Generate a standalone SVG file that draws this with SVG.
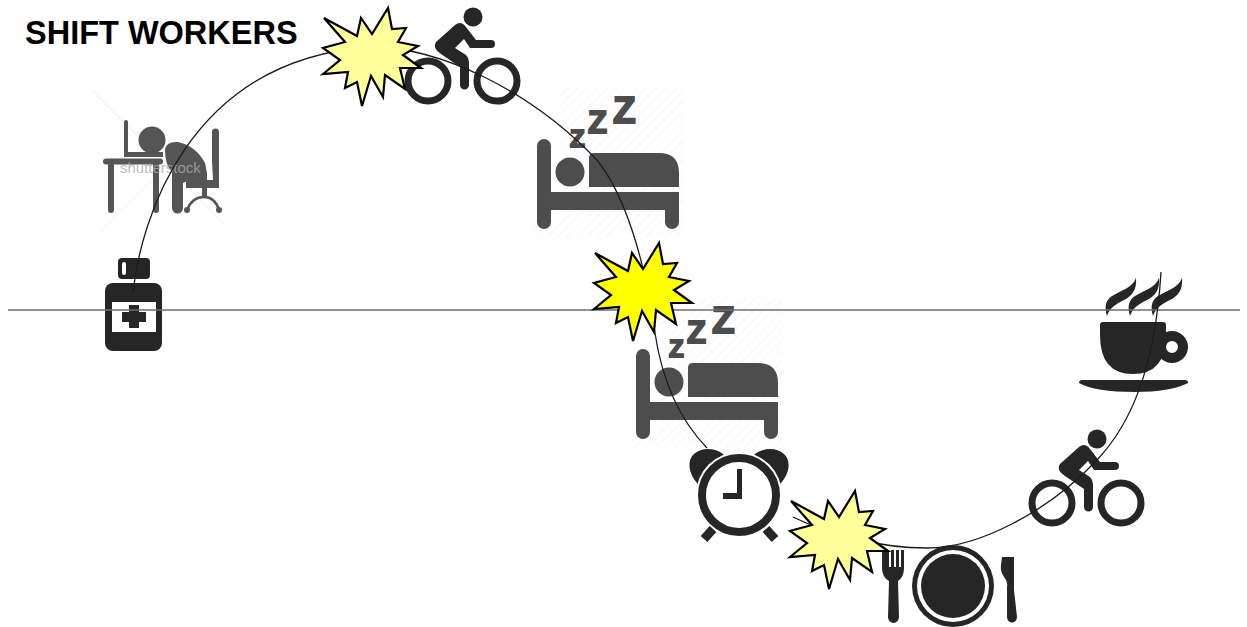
<svg xmlns="http://www.w3.org/2000/svg" xmlns:xlink="http://www.w3.org/1999/xlink" width="1247" height="627" viewBox="0 0 1247 627">
<style>
.d{fill:#262626}
.g{fill:#4d4d4d}
.o{fill:#555}
.w{fill:#fff}
.z{font-family:"Liberation Sans",Arial,sans-serif;font-weight:700;fill:#4d4d4d;stroke:#4d4d4d;stroke-width:2;stroke-linejoin:miter}
.star{stroke:#000;stroke-width:2.2;stroke-linejoin:miter}
.pale{fill:#ffff99}
.bright{fill:#ffff00}
.conn{fill:none;stroke:#1c1c1c;stroke-width:1.3}
.axis{fill:none;stroke:#6e6e6e;stroke-width:1.4}
.faint{stroke:#f6f6f6;stroke-width:1.5;fill:none}
</style>
<defs>
<pattern id="hatch" width="7" height="7" patternUnits="userSpaceOnUse" patternTransform="rotate(45)">
<rect width="7" height="7" fill="#fff"/>
<rect width="3" height="7" fill="#fbfbfb"/>
</pattern>
<g id="cyclist">
<circle cx="473" cy="17" r="9.5"/>
<path d="M436,42L455,25Q461,20 466,27L476,40L491,40A4,4 0 0 1 491,48L470,48L464,39L455,48L466,55Q469,58 469,62L469,85A4.500,4.500 0 0 1 460,85L460,67L441,54Q432,48 436,42Z"/>
<circle cx="428" cy="81" r="20" fill="none" stroke="#262626" stroke-width="7"/>
<circle cx="497" cy="81" r="20" fill="none" stroke="#262626" stroke-width="7"/>
</g>
<g id="bed">
<path fill="url(#hatch)" d="M561,88H683V237H533V225H561Z"/>
<rect x="537" y="139" width="14" height="90" rx="7" class="g"/>
<path class="g" d="M551,192H679V222A7,7 0 0 1 665,222V210H551Z"/>
<circle cx="570" cy="172" r="14.5" class="g"/>
<path class="g" d="M589,187V158Q589,153 594,153H659Q679,153 679,173V187Z"/>
<text class="z" x="570" y="147" font-size="24">Z</text>
<text class="z" x="588" y="133" font-size="31">Z</text>
<text class="z" x="613" y="123" font-size="37">Z</text>
</g>
<polygon id="burst" points="324,18 357,36 361,18 372,34 388,8 392,29 406,28 398,42 418,46 403,55 421,68 400,68 405,89 385,75 383,97 371,76 362,106 357,82 345,88 348,72 323,74 340,60 323,48 345,42"/>
</defs>

<rect width="1247" height="627" fill="#fff"/>

<text id="title" x="25" y="44" font-family="'Liberation Sans',Arial,sans-serif" font-weight="700" font-size="32.500" fill="#000">SHIFT WORKERS</text>

<g id="node-office">
<path class="faint" d="M92,90L225,225M100,232L222,110"/>
<rect class="o" x="103" y="158.500" width="60" height="6" rx="3"/>
<rect class="o" x="108" y="162" width="6" height="51" rx="3"/>
<rect class="o" x="153" y="162" width="6" height="51" rx="3"/>
<path class="o" d="M124,122a2,2 0 0 1 4,0V152H163V157H124Z"/>
<circle class="o" cx="152" cy="140" r="13.500"/>
<path class="o" d="M165,150Q166,141 178,142Q196,146 205,163L207,173V180H190L183,183V208A5.500,5.500 0 0 1 172,208V172Q165,165 165,150Z"/>
<path class="o" d="M212,132a3.500,3.500 0 0 1 7,0V188H186V180H213L212,160Z"/>
<rect class="o" x="202" y="187" width="5" height="11"/>
<path d="M187,210Q192,197 204,197Q215,197 219,210" fill="none" stroke="#555" stroke-width="2.500"/>
<circle class="o" cx="187" cy="210" r="3"/>
<circle class="o" cx="219" cy="210" r="3"/>
<text x="120" y="173" font-family="'Liberation Sans',Arial,sans-serif" font-size="15" fill="#aaa" fill-opacity=".8">shutterstock</text>
</g>

<g id="node-bottle">
<rect class="d" x="118" y="258" width="32" height="21" rx="4"/>
<rect class="w" x="122" y="262" width="4" height="13" rx="2"/>
<rect class="d" x="105" y="283" width="57" height="68" rx="8"/>
<rect class="w" x="112" y="302" width="44" height="30"/>
<path class="d" d="M129,305H139V312H146V322H139V328H129V322H122V312H129Z"/>
</g>

<use id="node-cyclist-top" href="#cyclist" xlink:href="#cyclist" class="d"/>
<g id="node-bed-1"><use href="#bed" xlink:href="#bed"/></g>
<g id="node-bed-2"><use href="#bed" xlink:href="#bed" x="99" y="210"/></g>

<g id="node-clock">
<path class="d" d="M697,483C688,473 687,460 694,454C702,447 715,448 723,454L740,470L705,495Z"/>
<path class="d" d="M781,483C790,473 791,460 784,454C776,447 763,448 755,454L738,470L773,495Z"/>
<circle class="w" cx="739" cy="495" r="43"/>
<circle cx="739" cy="495" r="37" fill="#fff" stroke="#262626" stroke-width="8"/>
<path class="d" d="M737,469H742V499H723V493H737Z"/>
<path d="M713,529L704,539M766,529L775,539" fill="none" stroke="#262626" stroke-width="9"/>
</g>

<g id="node-cyclist-bottom"><use href="#cyclist" xlink:href="#cyclist" x="624" y="422" class="d"/></g>

<g id="node-meal">
<circle class="d" cx="953" cy="586" r="41"/>
<circle class="w" cx="953" cy="586" r="36"/>
<circle class="d" cx="953" cy="586" r="32"/>
<path class="d" d="M882,550H889V567H891V550H894V567H896V550H899V567H901V550H904V568Q904,577 898,581L899,617A5,5.500 0 0 1 888,617L889,581Q882,577 882,568Z"/>
<path class="d" d="M1002,557H1014V590L1017,617A5,5.500 0 0 1 1007,617L1007,587Q1008,582 1004,577Q1000,571 1001,565Z"/>
</g>

<g id="node-cup">
<circle cx="1172" cy="347" r="11" fill="#fff" stroke="#262626" stroke-width="10"/>
<path class="d" d="M1100,325Q1100,322 1103,322H1163Q1166,322 1166,325V335Q1166,374 1133,374Q1100,374 1100,335Z"/>
<path class="d" d="M1082,380H1185Q1188,380 1188,383Q1170,392 1135,392Q1095,392 1079,383Q1079,380 1082,380Z"/>
<path class="d" d="M1107,316C1104,306 1106,300 1112,296C1122,290 1132,288 1136,278C1137,290 1132,296 1124,300C1114,305 1110,308 1107,316Z"/>
<path class="d" d="M1130,316C1127,306 1129,300 1135,296C1145,290 1155,288 1159,278C1160,290 1155,296 1147,300C1137,305 1133,308 1130,316Z"/>
<path class="d" d="M1153,316C1150,306 1152,300 1158,296C1168,290 1178,288 1182,278C1183,290 1178,296 1170,300C1160,305 1156,308 1153,316Z"/>
</g>

<g id="connectors">
<path class="axis" d="M8,310H1240"/>
<path class="conn" d="M133,293C140,225 185,60 370,47C440,47 530,90 597,160C625,195 645,260 655,333C662,380 680,420 707,448"/>
<path class="conn" d="M793,517C830,535 880,548 927,548C980,548 1050,510 1097,460C1130,425 1155,370 1161,272"/>
</g>

<g id="node-burst-1"><use href="#burst" xlink:href="#burst" class="star pale"/></g>
<g id="node-burst-2"><use href="#burst" xlink:href="#burst" x="271" y="235" class="star bright"/></g>
<g id="node-burst-3"><use href="#burst" xlink:href="#burst" x="467" y="483" class="star pale"/></g>
</svg>
